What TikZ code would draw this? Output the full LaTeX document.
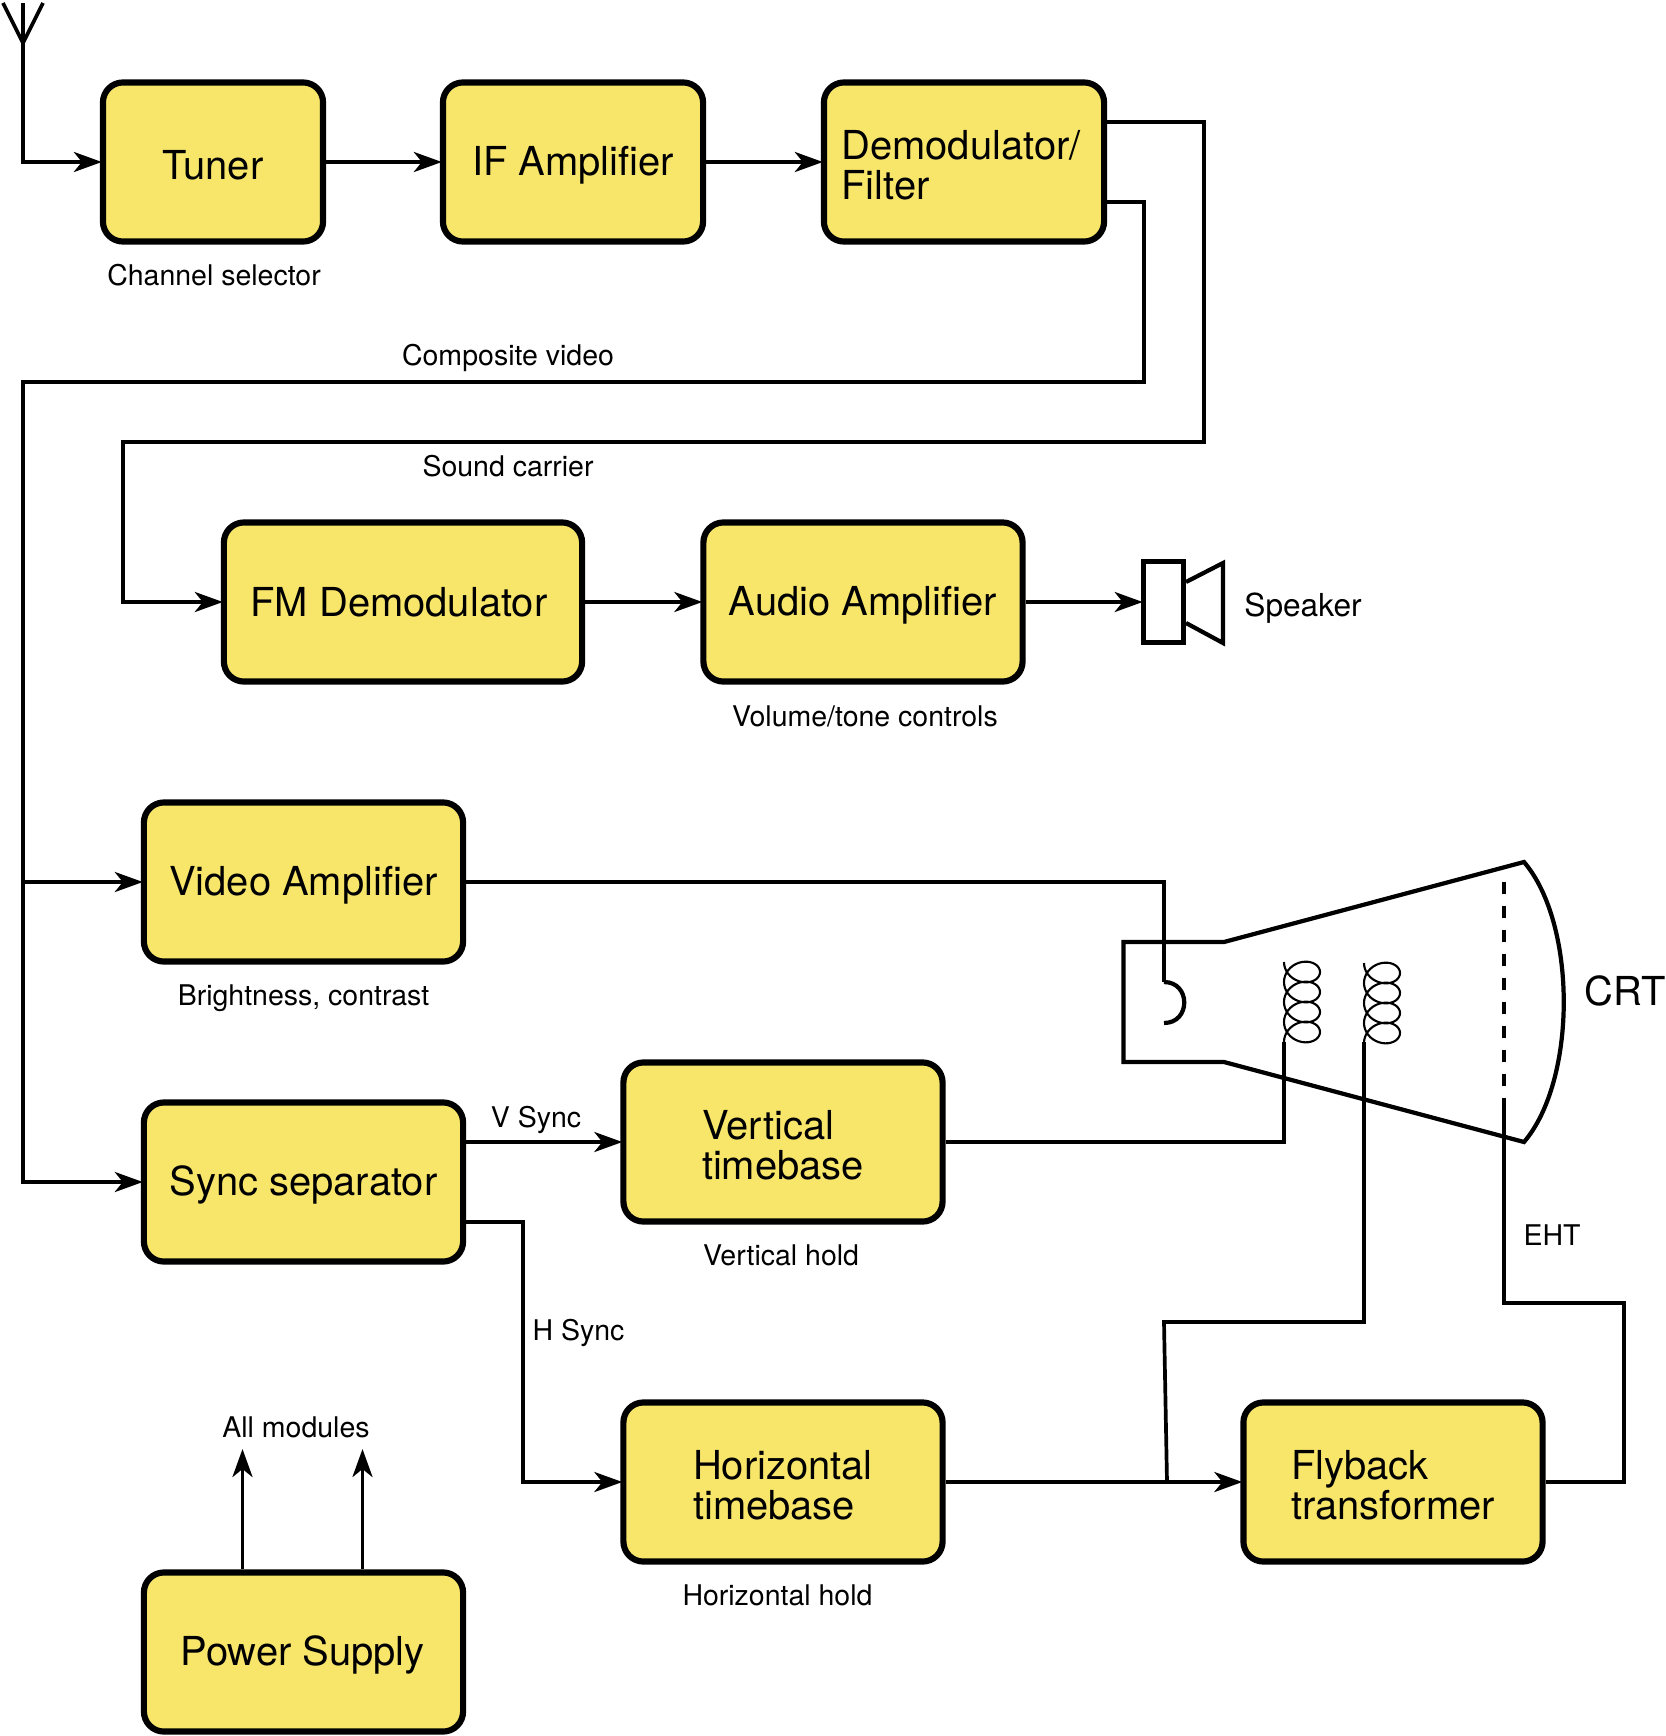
\documentclass[tikz,border=0pt]{standalone}
\usepackage{xcolor}
\usepackage{fontspec}
\setmainfont{TeX Gyre Heros}
\usetikzlibrary{arrows.meta, positioning}
\definecolor{modfill}{RGB}{248,230,107}
\newcommand{\lowline}{\rule{0pt}{10.3pt}}
\tikzset{
  modbox/.style={rectangle, draw=black, fill=modfill, align=left,
    minimum height=1.59cm, inner sep=0pt, rounded corners=0.2cm, line width=1.75pt,
    font=\fontsize{11.35}{11.4}\selectfont},
  note/.style={inner sep=0pt, font=\fontsize{8.1}{9.6}\selectfont},
  wire/.style={line width=1.05pt},
  flow/.style={wire, shorten >=-0.02cm, -{Stealth[length=2.8mm, width=2.0mm, inset=0.8mm]}},
  tube/.style={line width=1.2pt},
  coil/.style={line width=0.6pt}
}

\begin{document}
\begin{tikzpicture}[x=0.01cm, y=-0.01cm]
  \useasboundingbox (0,0) rectangle (1665,1736);

  % ── Modules ───────────────────────────────────────────────────────────────
  \node[modbox, minimum width=2.20cm]  (tuner)  at (213,162) {\lowline Tuner};
  \node[modbox, minimum width=2.60cm]  (ifamp)  at (573,162)   {\lowline IF Amplifier};
  \node[modbox, minimum width=2.80cm]  (demod)  at (964,162)   {\lowline Demodulator/\hspace*{0.06cm}\\Filter};
  \node[modbox, minimum width=3.58cm]  (fmdem)  at (403,602)   {FM Demodulator\hspace*{0.08cm}};
  \node[modbox, minimum width=3.19cm]  (audio)  at (863,602)   {\lowline Audio Amplifier};
  \node[modbox, minimum width=3.19cm]  (vidamp) at (303.5,882) {\lowline Video Amplifier};
  \node[modbox, minimum width=3.19cm]  (syncs)  at (303.5,1182) {\lowline Sync separator};
  \node[modbox, minimum width=3.19cm]  (vbase)  at (783,1142)  {\lowline Vertical\\timebase};
  \node[modbox, minimum width=3.19cm]  (hbase)  at (783,1482)  {\lowline Horizontal\\timebase};
  \node[modbox, minimum width=2.99cm]  (flyback) at (1393,1482) {\lowline Flyback\\transformer};
  \node[modbox, minimum width=3.19cm]  (power)  at (303.5,1652) {\lowline Power Supply\hspace*{0.02cm}};

  % ── Captions ──────────────────────────────────────────────────────────────
  \node[note] (chan)   at (214,275)  {Channel selector};
  \node[note] (compv)  at (508,358)  {Composite video};
  \node[note] (sound)  at (508,466)  {Sound carrier};
  \node[note] (volume) at (865,716)  {Volume/tone controls};
  \node[note] (bright) at (303.5,998)  {Brightness, contrast};
  \node[note] (vsync)  at (536,1120) {V Sync};
  \node[note] (vhold)  at (781,1255) {Vertical hold};
  \node[note] (hsync)  at (578.5,1333) {H Sync};
  \node[note] (allmod) at (296,1427) {All modules};
  \node[note] (hhold)  at (777.5,1595) {Horizontal hold};
  \node[note] (eht)    at (1552,1235) {EHT};
  \node[note, font=\fontsize{9}{10}\selectfont] (spklabel) at (1303,608) {Speaker};
  \node[inner sep=0pt, font=\fontsize{11.35}{11.4}\selectfont] (crt) at (1625,991) {CRT};

  % ── Antenna and top row ───────────────────────────────────────────────────
  \coordinate (ant) at (23,43);
  \coordinate (anttop) at (23,3);
  \draw[wire] (3,3) -- (ant) -- (43,3);
  \draw[flow] (anttop) -- (anttop |- tuner.west) -- (tuner.west);
  \draw[flow] (tuner.east) -- (ifamp.west);
  \draw[flow] (ifamp.east) -- (demod.west);

  % ── Sound path ────────────────────────────────────────────────────────────
  \coordinate (snda) at (1204,122);
  \coordinate (sndb) at (1204,442);
  \coordinate (sndc) at (123,442);
  \draw[flow] (demod.east |- snda) -- (snda) -- (sndb) -- (sndc) -- (sndc |- fmdem.west) -- (fmdem.west);
  \draw[flow] (fmdem.east) -- (audio.west);

  % Speaker
  \node[rectangle, draw=black, line width=1.6pt, minimum width=0.40cm, minimum height=0.81cm, inner sep=0pt] (spk) at (1163.5,602) {};
  \draw[flow] (audio.east) -- (spk.west);
  \draw[tube] (1186,582) -- (1223,563) -- (1223,643) -- (1186,623);

  % ── Composite video ───────────────────────────────────────────────────────
  \coordinate (vida) at (1144,202);
  \coordinate (vidb) at (1144,382);
  \coordinate (vidc) at (23,382);
  \draw[flow] (demod.east |- vida) -- (vida) -- (vidb) -- (vidc) -- (vidc |- syncs.west) -- (syncs.west);
  \draw[flow] (vidc |- vidamp.west) -- (vidamp.west);

  % ── CRT ───────────────────────────────────────────────────────────────────
  \draw[tube] (1224,942) -- (1123.5,942) -- (1123.5,1062) -- (1224,1062) -- (1524,1142)
    .. controls (1577,1080) and (1577,924) .. (1524,862) -- cycle;
  \draw[tube, dash pattern=on 0.12cm off 0.12cm] (1504,882) -- (1504,1098);
  \foreach \coilx/\coily in {1302/962, 1382/963} {
    \draw[coil] plot[smooth, samples=145, domain=0:1440]
      ({\coilx - 18*cos(\x)}, {\coily + 15*sin(\x) + \x/18});
  }

  % Gun feed
  \coordinate (guna) at (1164,882);
  \coordinate (gunb) at (1164,982);
  \draw[wire] (vidamp.east) -- (guna) -- (gunb);
  \draw[wire, line width=1.2pt] (gunb) .. controls (1191,982) and (1191,1023) .. (1164,1023);

  % ── Timebases ─────────────────────────────────────────────────────────────
  \coordinate (hsa) at (523,1222);
  \draw[flow] (syncs.east |- vbase.west) -- (vbase.west);
  \draw[flow] (syncs.east |- hsa) -- (hsa) -- (hsa |- hbase.west) -- (hbase.west);

  \coordinate (vcoil) at (1284,1042);
  \draw[wire] (vbase.east) -- (vcoil |- vbase.east) -- (vcoil);

  \coordinate (hjoin) at (1167,1482);
  \coordinate (hlift) at (1164,1322);
  \coordinate (hcoil) at (1364,1042);
  \draw[flow] (hbase.east) -- (flyback.west);
  \draw[wire, line width=1.4pt] (1083,1482) -- (hjoin);
  \draw[wire] (hjoin) -- (hlift) -- (hcoil |- hlift) -- (hcoil);

  % ── EHT ───────────────────────────────────────────────────────────────────
  \coordinate (ehta) at (1624,1303);
  \coordinate (ehtb) at (1504,1098);
  \draw[wire] (flyback.east) -- (ehta |- flyback.east) -- (ehta) -- (ehtb |- ehta) -- (ehtb);

  % ── Power outputs ─────────────────────────────────────────────────────────
  \coordinate (pwra) at (242.5,1451);
  \coordinate (pwrb) at (362.5,1451);
  \draw[flow] (pwra |- power.north) -- (pwra);
  \draw[flow] (pwrb |- power.north) -- (pwrb);
\end{tikzpicture}
\end{document}
